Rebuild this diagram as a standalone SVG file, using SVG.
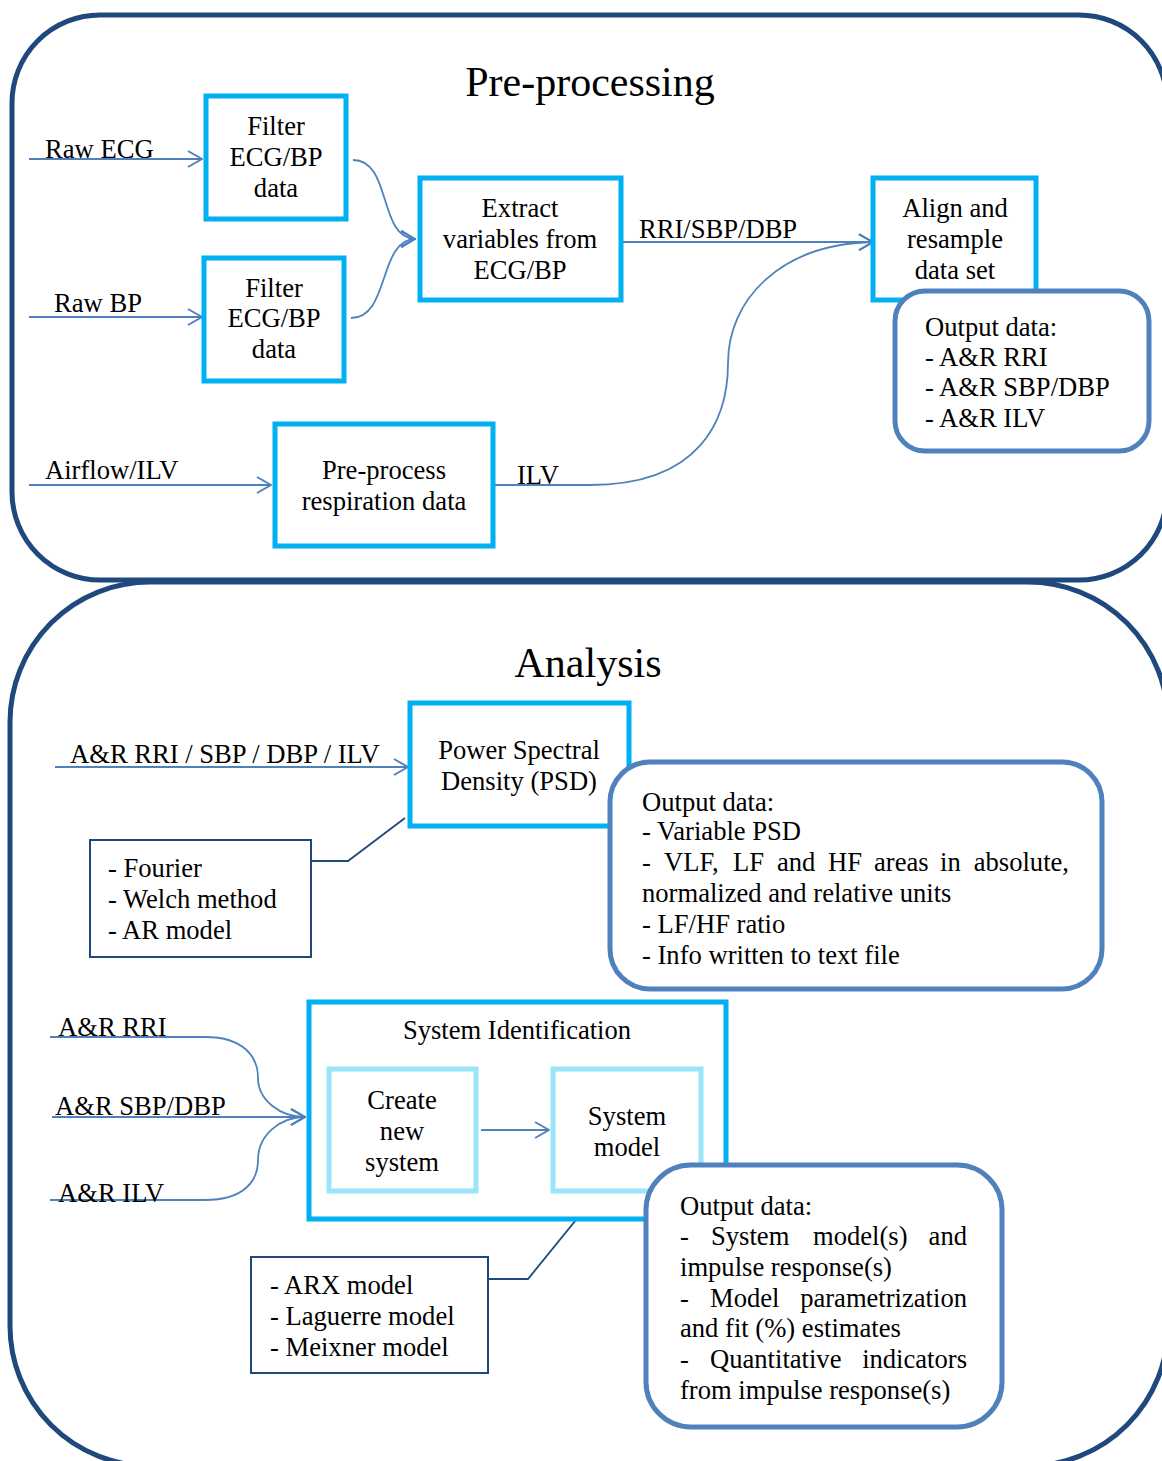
<svg xmlns="http://www.w3.org/2000/svg" width="1162" height="1461" viewBox="0 0 1162 1461">
<defs>
<marker id="arr" viewBox="0 0 16 18" refX="15" refY="9" markerWidth="16" markerHeight="18" markerUnits="userSpaceOnUse" orient="auto">
<path d="M1,1 L15,9 L1,17" fill="none" stroke="#4F81BD" stroke-width="2"/>
</marker>
</defs>
<style>
text{font-family:"Liberation Serif","Times New Roman",serif;font-size:26.6px;fill:#000}
.t{font-size:42px}
.c{text-anchor:middle}
.e{text-anchor:end}
.frame{fill:none;stroke:#1F497D;stroke-width:5}
.box{fill:#fff;stroke:#00B0F0;stroke-width:5}
.lbox{fill:#fff;stroke:#9BE5FA;stroke-width:5}
.out{fill:#fff;stroke:#4F81BD;stroke-width:5}
.thin{fill:#fff;stroke:#1F497D;stroke-width:2}
.con{fill:none;stroke:#4F81BD;stroke-width:1.8}
.ncon{fill:none;stroke:#1F497D;stroke-width:1.8}
</style>
<rect width="1162" height="1461" fill="#fff"/>
<g id="frame-preprocessing">
<rect class="frame" x="12" y="15" width="1155" height="565" rx="88" ry="88"/>
<text class="t c" x="590" y="96">Pre-processing</text>
</g>
<g id="frame-analysis">
<rect class="frame" x="10" y="582" width="1158" height="884" rx="140" ry="140"/>
<text class="t c" x="588" y="677">Analysis</text>
</g>
<g id="connectors">
<path class="con" d="M29,159 L202,159" marker-end="url(#arr)"/>
<path class="con" d="M29,317 L202,317" marker-end="url(#arr)"/>
<path class="con" d="M353,160 C392,160 378,238 415,239" marker-end="url(#arr)"/>
<path class="con" d="M351,318 C390,318 378,240 415,239" marker-end="url(#arr)"/>
<path class="con" d="M622,242 L873,242" marker-end="url(#arr)"/>
<path class="con" d="M29,485 L271,485" marker-end="url(#arr)"/>
<path class="con" d="M494,485 L590,485 C700,485 728,420 728,363 C728,300 780,244 873,242" marker-end="url(#arr)"/>
<path class="con" d="M55,767 L408,767" marker-end="url(#arr)"/>
<path class="ncon" d="M311,861 L348,861 L405,818"/>
<path class="con" d="M50,1037 L205,1037 C245,1037 258,1058 258,1078 C258,1100 280,1117 305,1117" marker-end="url(#arr)"/>
<path class="con" d="M52,1117 L305,1117" marker-end="url(#arr)"/>
<path class="con" d="M50,1200 L205,1200 C245,1200 258,1180 258,1160 C258,1135 280,1117 305,1117" marker-end="url(#arr)"/>
<path class="ncon" d="M488,1279 L528,1279 L610,1178"/>
<text x="45" y="158">Raw ECG</text>
<text x="54" y="312">Raw BP</text>
<text x="639" y="238">RRI/SBP/DBP</text>
<text x="45" y="479">Airflow/ILV</text>
<text x="517" y="484">ILV</text>
<text x="70" y="763">A&amp;R RRI / SBP / DBP / ILV</text>
<text x="58" y="1036">A&amp;R RRI</text>
<text x="55" y="1115">A&amp;R SBP/DBP</text>
<text x="58" y="1202">A&amp;R ILV</text>
</g>
<g id="filter1">
<rect class="box" x="206" y="96" width="140" height="123"/>
<text class="c" x="276" y="135">Filter</text>
<text class="c" x="276" y="166">ECG/BP</text>
<text class="c" x="276" y="197">data</text>
</g>
<g id="filter2">
<rect class="box" x="204" y="258" width="140" height="123"/>
<text class="c" x="274" y="297">Filter</text>
<text class="c" x="274" y="327">ECG/BP</text>
<text class="c" x="274" y="358">data</text>
</g>
<g id="extract">
<rect class="box" x="420" y="178" width="201" height="122"/>
<text class="c" x="520" y="217">Extract</text>
<text class="c" x="520" y="248">variables from</text>
<text class="c" x="520" y="279">ECG/BP</text>
</g>
<g id="align">
<rect class="box" x="873" y="178" width="163" height="122"/>
<text class="c" x="955" y="217">Align and</text>
<text class="c" x="955" y="248">resample</text>
<text class="c" x="955" y="279">data set</text>
</g>
<g id="output1">
<rect class="out" x="895" y="291" width="254" height="160" rx="30" ry="30"/>
<text x="925" y="336">Output data:</text>
<text x="925" y="366">- A&amp;R RRI</text>
<text x="925" y="396">- A&amp;R SBP/DBP</text>
<text x="925" y="427">- A&amp;R ILV</text>
</g>
<g id="preprocess-resp">
<rect class="box" x="275" y="424" width="218" height="122"/>
<text class="c" x="384" y="479">Pre-process</text>
<text class="c" x="384" y="510">respiration data</text>
</g>
<g id="psd">
<rect class="box" x="410" y="703" width="219" height="123"/>
<text class="c" x="519" y="759">Power Spectral</text>
<text class="c" x="519" y="790">Density (PSD)</text>
</g>
<g id="psd-methods">
<rect class="thin" x="90" y="840" width="221" height="117"/>
<text x="108" y="877">- Fourier</text>
<text x="108" y="908">- Welch method</text>
<text x="108" y="939">- AR model</text>
</g>
<g id="output2">
<rect class="out" x="610" y="762" width="492" height="227" rx="40" ry="40"/>
<text x="642" y="811">Output data:</text>
<text x="642" y="840">- Variable PSD</text>
<text x="642" y="871">-</text>
<text x="664" y="871">VLF,</text>
<text x="733" y="871">LF</text>
<text x="777" y="871">and</text>
<text x="828" y="871">HF</text>
<text x="874" y="871">areas</text>
<text x="940" y="871">in</text>
<text class="e" x="1069" y="871">absolute,</text>
<text x="642" y="902">normalized and relative units</text>
<text x="642" y="933">- LF/HF ratio</text>
<text x="642" y="964">- Info written to text file</text>
</g>
<g id="sysid">
<rect class="box" x="309" y="1002" width="417" height="217"/>
<text class="c" x="517" y="1039">System Identification</text>
</g>
<g id="create-system">
<rect class="lbox" x="329" y="1069" width="147" height="122"/>
<text class="c" x="402" y="1109">Create</text>
<text class="c" x="402" y="1140">new</text>
<text class="c" x="402" y="1171">system</text>
</g>
<g id="system-model">
<rect class="lbox" x="553" y="1069" width="148" height="122"/>
<text class="c" x="627" y="1125">System</text>
<text class="c" x="627" y="1156">model</text>
</g>
<g id="inner-connector">
<path class="con" d="M481,1130 L549,1130" marker-end="url(#arr)"/>
</g>
<g id="model-types">
<rect class="thin" x="251" y="1257" width="237" height="116"/>
<text x="270" y="1294">- ARX model</text>
<text x="270" y="1325">- Laguerre model</text>
<text x="270" y="1356">- Meixner model</text>
</g>
<g id="output3">
<rect class="out" x="646" y="1165" width="356" height="262" rx="45" ry="45"/>
<text x="680" y="1215">Output data:</text>
<text x="680" y="1245">-</text>
<text x="711" y="1245">System</text>
<text x="813" y="1245">model(s)</text>
<text class="e" x="967" y="1245">and</text>
<text x="680" y="1276">impulse response(s)</text>
<text x="680" y="1307">-</text>
<text x="710" y="1307">Model</text>
<text class="e" x="967" y="1307">parametrization</text>
<text x="680" y="1337">and fit (%) estimates</text>
<text x="680" y="1368">-</text>
<text x="710" y="1368">Quantitative</text>
<text class="e" x="967" y="1368">indicators</text>
<text x="680" y="1399">from impulse response(s)</text>
</g>
</svg>
